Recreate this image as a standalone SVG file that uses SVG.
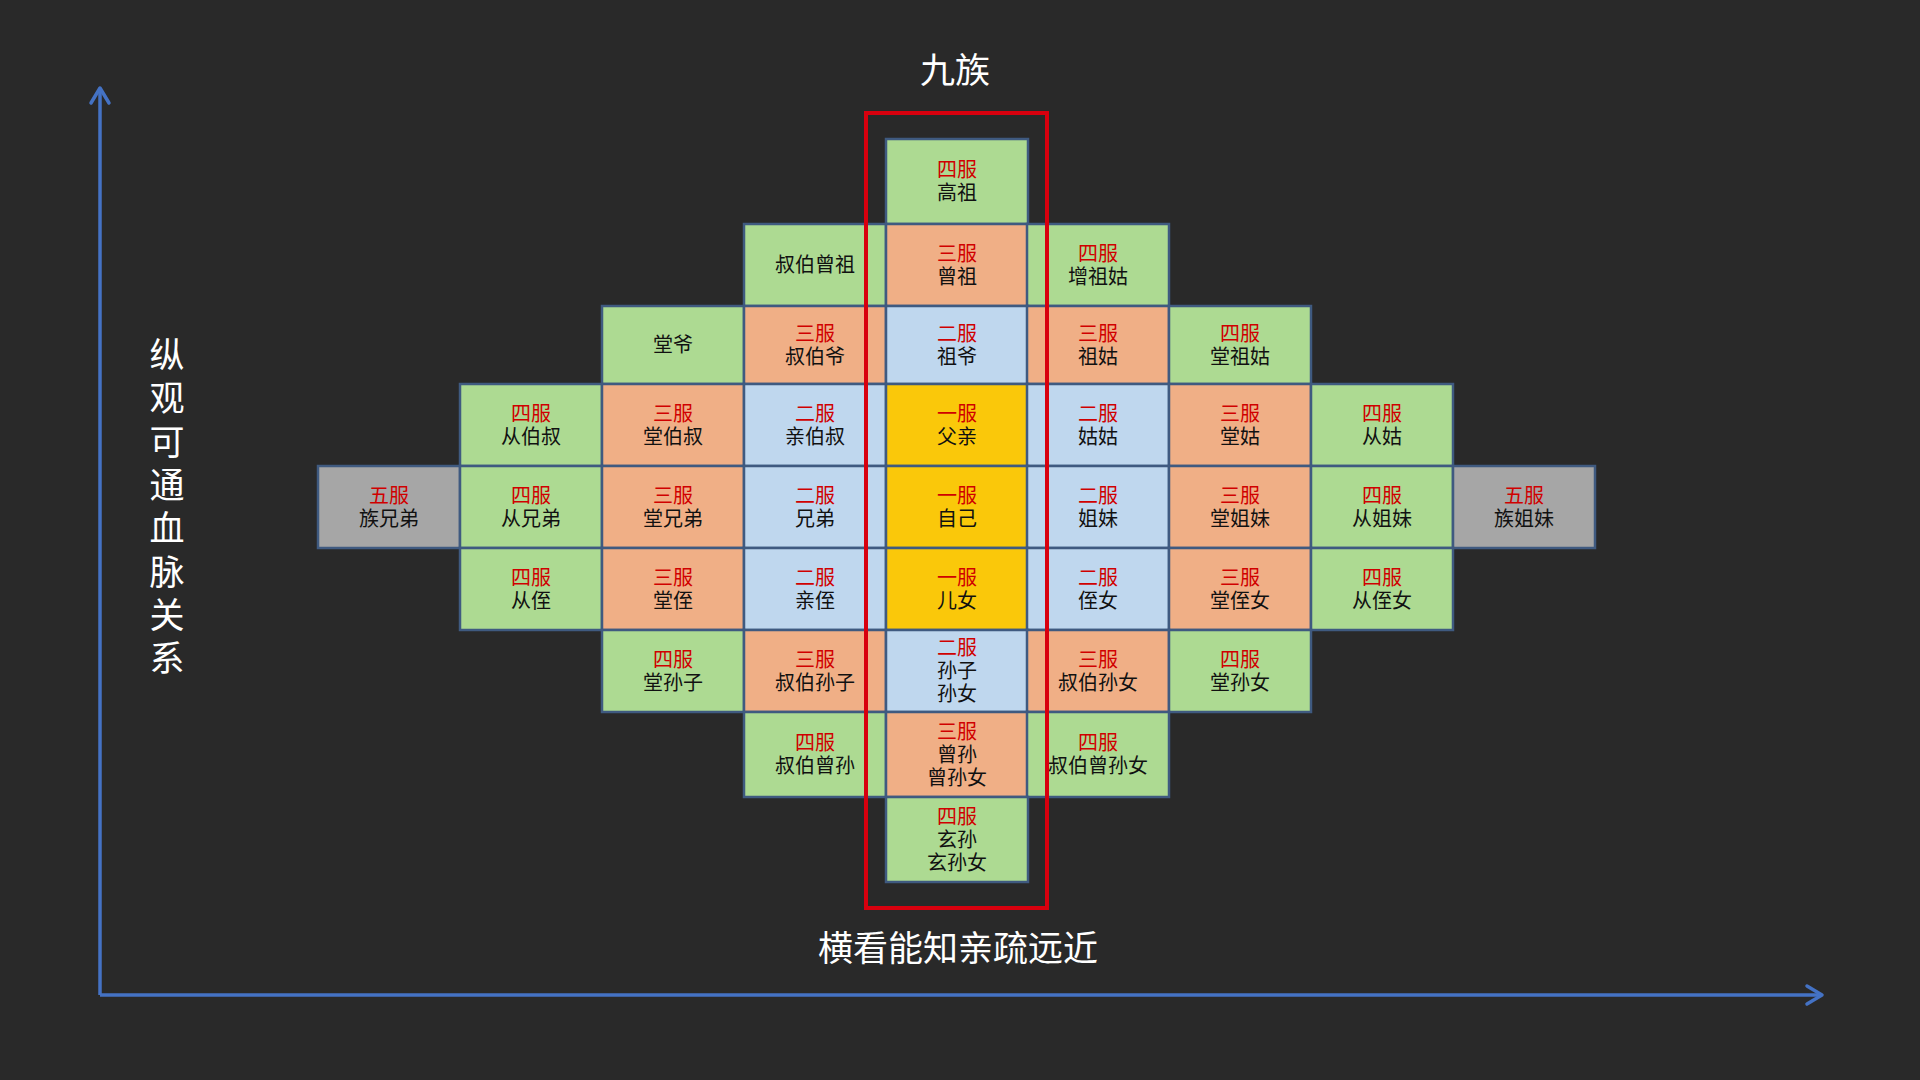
<svg xmlns="http://www.w3.org/2000/svg" width="1920" height="1080" viewBox="0 0 1920 1080">
<defs>
<style>
.cell{stroke:#3f5a80;stroke-width:2.5}
.g{fill:#ADDA92}.o{fill:#F0AF86}.b{fill:#BFD7EE}.y{fill:#FAC80A}.s{fill:#A6A6A6}
text{font-family:"Liberation Sans","Noto Sans CJK SC",sans-serif;text-anchor:middle;dominant-baseline:central}
.t{font-size:20px;fill:#111111}
.lv{fill:#D00000}
.big{fill:#FFFFFF;font-size:35px}
.axis{stroke:#4472C4;stroke-width:3.5;fill:none}
</style>
<marker id="arr" viewBox="-18 -12 22 24" refX="0" refY="0" markerUnits="userSpaceOnUse" markerWidth="22" markerHeight="24" orient="auto">
<path d="M-15,-9 L0,0 L-15,9" fill="none" stroke="#4472C4" stroke-width="3.5" stroke-linecap="round" stroke-linejoin="round"/>
</marker>
</defs>
<rect x="0" y="0" width="1920" height="1080" fill="#292929"/>

<g id="connectors">
<path class="axis" d="M100,995 L100,88" marker-end="url(#arr)"/>
<path class="axis" d="M100,995 L1822,995" marker-end="url(#arr)"/>
</g>

<text class="big" x="955" y="70">九族</text>
<text id="vertical-label" class="big" x="167" y="355"><tspan x="167" dy="0">纵</tspan><tspan x="167" dy="43.3">观</tspan><tspan x="167" dy="43.3">可</tspan><tspan x="167" dy="43.3">通</tspan><tspan x="167" dy="43.3">血</tspan><tspan x="167" dy="43.3">脉</tspan><tspan x="167" dy="43.3">关</tspan><tspan x="167" dy="43.3">系</tspan></text>
<text class="big" x="958" y="948">横看能知亲疏远近</text>

<!-- row 0 -->
<g id="gaozu"><rect class="cell g" x="886" y="139" width="142" height="85"/><text class="t" x="957" y="170"><tspan class="lv">四服</tspan><tspan x="957" dy="23">高祖</tspan></text></g>
<!-- row 1 -->
<g id="shubozengzu"><rect class="cell g" x="744" y="224" width="142" height="82"/><text class="t" x="815" y="265">叔伯曾祖</text></g>
<g id="zengzu"><rect class="cell o" x="886" y="224" width="142" height="82"/><text class="t" x="957" y="253.5"><tspan class="lv">三服</tspan><tspan x="957" dy="23">曾祖</tspan></text></g>
<g id="zengzugu"><rect class="cell g" x="1027" y="224" width="142" height="82"/><text class="t" x="1098" y="253.5"><tspan class="lv">四服</tspan><tspan x="1098" dy="23">增祖姑</tspan></text></g>
<!-- row 2 -->
<g id="tangye"><rect class="cell g" x="602" y="306" width="142" height="78"/><text class="t" x="673" y="345">堂爷</text></g>
<g id="shuboye"><rect class="cell o" x="744" y="306" width="142" height="78"/><text class="t" x="815" y="333.5"><tspan class="lv">三服</tspan><tspan x="815" dy="23">叔伯爷</tspan></text></g>
<g id="zuye"><rect class="cell b" x="886" y="306" width="142" height="78"/><text class="t" x="957" y="333.5"><tspan class="lv">二服</tspan><tspan x="957" dy="23">祖爷</tspan></text></g>
<g id="zugu"><rect class="cell o" x="1027" y="306" width="142" height="78"/><text class="t" x="1098" y="333.5"><tspan class="lv">三服</tspan><tspan x="1098" dy="23">祖姑</tspan></text></g>
<g id="tangzugu"><rect class="cell g" x="1169" y="306" width="142" height="78"/><text class="t" x="1240" y="333.5"><tspan class="lv">四服</tspan><tspan x="1240" dy="23">堂祖姑</tspan></text></g>
<!-- row 3 -->
<g id="congboshu"><rect class="cell g" x="460" y="384" width="142" height="82"/><text class="t" x="531" y="413.5"><tspan class="lv">四服</tspan><tspan x="531" dy="23">从伯叔</tspan></text></g>
<g id="tangboshu"><rect class="cell o" x="602" y="384" width="142" height="82"/><text class="t" x="673" y="413.5"><tspan class="lv">三服</tspan><tspan x="673" dy="23">堂伯叔</tspan></text></g>
<g id="qinboshu"><rect class="cell b" x="744" y="384" width="142" height="82"/><text class="t" x="815" y="413.5"><tspan class="lv">二服</tspan><tspan x="815" dy="23">亲伯叔</tspan></text></g>
<g id="fuqin"><rect class="cell y" x="886" y="384" width="142" height="82"/><text class="t" x="957" y="413.5"><tspan class="lv">一服</tspan><tspan x="957" dy="23">父亲</tspan></text></g>
<g id="gugu"><rect class="cell b" x="1027" y="384" width="142" height="82"/><text class="t" x="1098" y="413.5"><tspan class="lv">二服</tspan><tspan x="1098" dy="23">姑姑</tspan></text></g>
<g id="tanggu"><rect class="cell o" x="1169" y="384" width="142" height="82"/><text class="t" x="1240" y="413.5"><tspan class="lv">三服</tspan><tspan x="1240" dy="23">堂姑</tspan></text></g>
<g id="conggu"><rect class="cell g" x="1311" y="384" width="142" height="82"/><text class="t" x="1382" y="413.5"><tspan class="lv">四服</tspan><tspan x="1382" dy="23">从姑</tspan></text></g>
<!-- row 4 -->
<g id="zuxiongdi"><rect class="cell s" x="318" y="466" width="142" height="82"/><text class="t" x="389" y="495.5"><tspan class="lv">五服</tspan><tspan x="389" dy="23">族兄弟</tspan></text></g>
<g id="congxiongdi"><rect class="cell g" x="460" y="466" width="142" height="82"/><text class="t" x="531" y="495.5"><tspan class="lv">四服</tspan><tspan x="531" dy="23">从兄弟</tspan></text></g>
<g id="tangxiongdi"><rect class="cell o" x="602" y="466" width="142" height="82"/><text class="t" x="673" y="495.5"><tspan class="lv">三服</tspan><tspan x="673" dy="23">堂兄弟</tspan></text></g>
<g id="xiongdi"><rect class="cell b" x="744" y="466" width="142" height="82"/><text class="t" x="815" y="495.5"><tspan class="lv">二服</tspan><tspan x="815" dy="23">兄弟</tspan></text></g>
<g id="ziji"><rect class="cell y" x="886" y="466" width="142" height="82"/><text class="t" x="957" y="495.5"><tspan class="lv">一服</tspan><tspan x="957" dy="23">自己</tspan></text></g>
<g id="jiemei"><rect class="cell b" x="1027" y="466" width="142" height="82"/><text class="t" x="1098" y="495.5"><tspan class="lv">二服</tspan><tspan x="1098" dy="23">姐妹</tspan></text></g>
<g id="tangjiemei"><rect class="cell o" x="1169" y="466" width="142" height="82"/><text class="t" x="1240" y="495.5"><tspan class="lv">三服</tspan><tspan x="1240" dy="23">堂姐妹</tspan></text></g>
<g id="congjiemei"><rect class="cell g" x="1311" y="466" width="142" height="82"/><text class="t" x="1382" y="495.5"><tspan class="lv">四服</tspan><tspan x="1382" dy="23">从姐妹</tspan></text></g>
<g id="zujiemei"><rect class="cell s" x="1453" y="466" width="142" height="82"/><text class="t" x="1524" y="495.5"><tspan class="lv">五服</tspan><tspan x="1524" dy="23">族姐妹</tspan></text></g>
<!-- row 5 -->
<g id="congzhi"><rect class="cell g" x="460" y="548" width="142" height="82"/><text class="t" x="531" y="577.5"><tspan class="lv">四服</tspan><tspan x="531" dy="23">从侄</tspan></text></g>
<g id="tangzhi"><rect class="cell o" x="602" y="548" width="142" height="82"/><text class="t" x="673" y="577.5"><tspan class="lv">三服</tspan><tspan x="673" dy="23">堂侄</tspan></text></g>
<g id="qinzhi"><rect class="cell b" x="744" y="548" width="142" height="82"/><text class="t" x="815" y="577.5"><tspan class="lv">二服</tspan><tspan x="815" dy="23">亲侄</tspan></text></g>
<g id="ernv"><rect class="cell y" x="886" y="548" width="142" height="82"/><text class="t" x="957" y="577.5"><tspan class="lv">一服</tspan><tspan x="957" dy="23">儿女</tspan></text></g>
<g id="zhinv"><rect class="cell b" x="1027" y="548" width="142" height="82"/><text class="t" x="1098" y="577.5"><tspan class="lv">二服</tspan><tspan x="1098" dy="23">侄女</tspan></text></g>
<g id="tangzhinv"><rect class="cell o" x="1169" y="548" width="142" height="82"/><text class="t" x="1240" y="577.5"><tspan class="lv">三服</tspan><tspan x="1240" dy="23">堂侄女</tspan></text></g>
<g id="congzhinv"><rect class="cell g" x="1311" y="548" width="142" height="82"/><text class="t" x="1382" y="577.5"><tspan class="lv">四服</tspan><tspan x="1382" dy="23">从侄女</tspan></text></g>
<!-- row 6 -->
<g id="tangsunzi"><rect class="cell g" x="602" y="630" width="142" height="82"/><text class="t" x="673" y="659.5"><tspan class="lv">四服</tspan><tspan x="673" dy="23">堂孙子</tspan></text></g>
<g id="shubosunzi"><rect class="cell o" x="744" y="630" width="142" height="82"/><text class="t" x="815" y="659.5"><tspan class="lv">三服</tspan><tspan x="815" dy="23">叔伯孙子</tspan></text></g>
<g id="sunzisunnv"><rect class="cell b" x="886" y="630" width="142" height="82"/><text class="t" x="957" y="648"><tspan class="lv">二服</tspan><tspan x="957" dy="23">孙子</tspan><tspan x="957" dy="23">孙女</tspan></text></g>
<g id="shubosunnv"><rect class="cell o" x="1027" y="630" width="142" height="82"/><text class="t" x="1098" y="659.5"><tspan class="lv">三服</tspan><tspan x="1098" dy="23">叔伯孙女</tspan></text></g>
<g id="tangsunnv"><rect class="cell g" x="1169" y="630" width="142" height="82"/><text class="t" x="1240" y="659.5"><tspan class="lv">四服</tspan><tspan x="1240" dy="23">堂孙女</tspan></text></g>
<!-- row 7 -->
<g id="shubozengsun"><rect class="cell g" x="744" y="712" width="142" height="85"/><text class="t" x="815" y="743"><tspan class="lv">四服</tspan><tspan x="815" dy="23">叔伯曾孙</tspan></text></g>
<g id="zengsun"><rect class="cell o" x="886" y="712" width="142" height="85"/><text class="t" x="957" y="731.5"><tspan class="lv">三服</tspan><tspan x="957" dy="23">曾孙</tspan><tspan x="957" dy="23">曾孙女</tspan></text></g>
<g id="shubozengsunnv"><rect class="cell g" x="1027" y="712" width="142" height="85"/><text class="t" x="1098" y="743"><tspan class="lv">四服</tspan><tspan x="1098" dy="23">叔伯曾孙女</tspan></text></g>
<!-- row 8 -->
<g id="xuansun"><rect class="cell g" x="886" y="797" width="142" height="85"/><text class="t" x="957" y="816.5"><tspan class="lv">四服</tspan><tspan x="957" dy="23">玄孙</tspan><tspan x="957" dy="23">玄孙女</tspan></text></g>

<g id="jiuzu-frame"><rect x="866" y="113" width="181" height="795" fill="none" stroke="#D8000E" stroke-width="4"/></g>
</svg>
